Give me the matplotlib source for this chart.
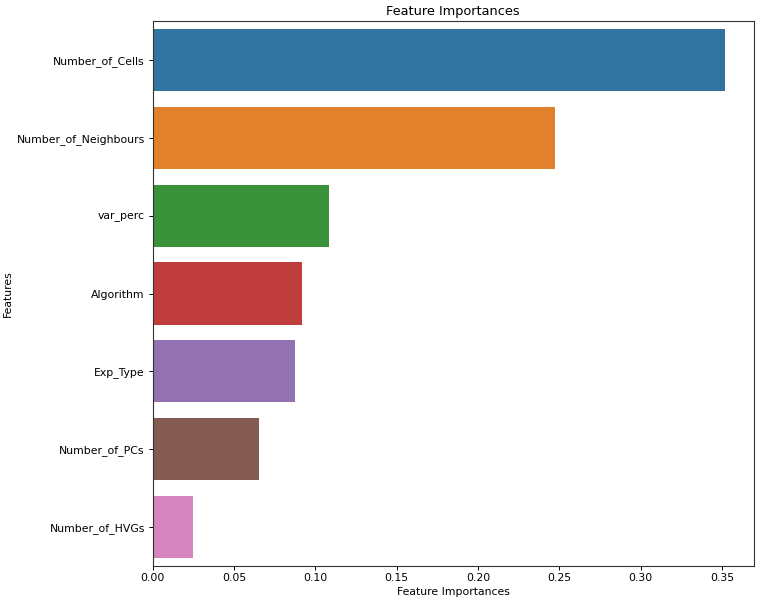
import matplotlib
matplotlib.use("Agg")
import matplotlib.pyplot as plt
import seaborn as sns
import pandas as pd

features = ["Number_of_Cells", "Number_of_Neighbours", "var_perc", "Algorithm",
            "Exp_Type", "Number_of_PCs", "Number_of_HVGs"]
importances = [0.352, 0.2476, 0.1083, 0.0917, 0.0878, 0.0653, 0.0251]
xtick_vals = [0.0, 0.05, 0.10, 0.15, 0.20, 0.25, 0.30, 0.35]
xtick_labels = ["0.00", "0.05", "0.10", "0.15", "0.20", "0.25", "0.30", "0.35"]

df = pd.DataFrame({"Features": features, "Feature Importances": importances})

plt.rcParams['font.family'] = ['DejaVu Sans']
fig = plt.figure(figsize=(7.61, 6.05), dpi=100)
ax = fig.add_axes([0.2004, 0.065, 0.7904, 0.8995])
sns.barplot(data=df, x="Feature Importances", y="Features", hue="Features",
            palette=sns.color_palette("tab10", len(features)), saturation=0.75,
            legend=False, ax=ax, orient="h")
ax.set_title("Feature Importances", fontsize=9.3, pad=5)
ax.set_xlabel("Feature Importances", fontsize=7.8, labelpad=3)
ax.set_ylabel("Features", fontsize=7.8, labelpad=3)
ax.set_xticks(xtick_vals)
ax.set_xticklabels(xtick_labels)
ax.tick_params(labelsize=7.8, length=3, width=0.7, pad=2.5)
for s in ax.spines.values():
    s.set_visible(True)
    s.set_color("#333333")
    s.set_linewidth(0.8)
fig.savefig("out.png", dpi=100, facecolor="white")
